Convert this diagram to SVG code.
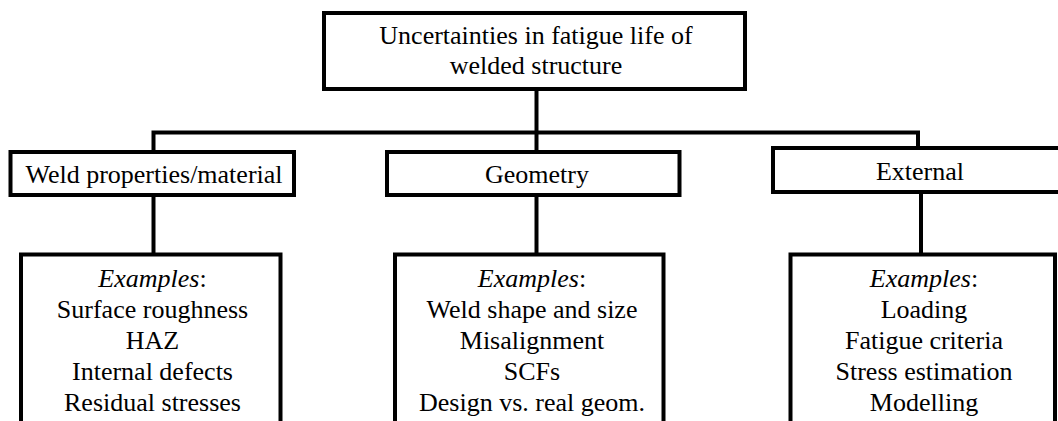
<svg xmlns="http://www.w3.org/2000/svg" width="1058" height="421" viewBox="0 0 1058 421">
<style>
.box{fill:#fff;stroke:#000;stroke-width:4}
.ln{fill:none;stroke:#000;stroke-width:4}
.t{font-size:26px;fill:#000;text-anchor:middle}
</style>
<rect width="1058" height="421" fill="#fff"/>
<g id="connectors">
<path class="ln" d="M536.5 89V152"/>
<path class="ln" d="M153.5 152V132.5H918V148"/>
<path class="ln" d="M153.5 195V254"/>
<path class="ln" d="M536.5 195V254"/>
<path class="ln" d="M921 192V254"/>
</g>
<g font-family="'Liberation Serif', 'Times New Roman', 'DejaVu Serif', serif">
<g id="root">
<rect class="box" x="324" y="13" width="421" height="76"/>
<text class="t" x="536" y="44">Uncertainties in fatigue life of</text>
<text class="t" x="536" y="74">welded structure</text>
</g>
<g id="weld">
<rect class="box" x="10.5" y="152" width="283.5" height="43"/>
<text class="t" x="154" y="183">Weld properties/material</text>
</g>
<g id="geometry">
<rect class="box" x="387" y="152" width="292.5" height="43"/>
<text class="t" x="537" y="183">Geometry</text>
</g>
<g id="external">
<rect class="box" x="773" y="148" width="300" height="44"/>
<text class="t" x="920" y="180">External</text>
</g>
<g id="weld-examples">
<rect class="box" x="21" y="254.5" width="259.5" height="180"/>
<text class="t" x="152.5" y="287"><tspan font-style="italic">Examples</tspan>:</text>
<text class="t" x="152.5" y="318">Surface roughness</text>
<text class="t" x="152.5" y="349">HAZ</text>
<text class="t" x="152.5" y="380">Internal defects</text>
<text class="t" x="152.5" y="411">Residual stresses</text>
</g>
<g id="geometry-examples">
<rect class="box" x="395" y="254.5" width="268.5" height="180"/>
<text class="t" x="532" y="287"><tspan font-style="italic">Examples</tspan>:</text>
<text class="t" x="532" y="318">Weld shape and size</text>
<text class="t" x="532" y="349">Misalignment</text>
<text class="t" x="532" y="380">SCFs</text>
<text class="t" x="532" y="411">Design vs. real geom.</text>
</g>
<g id="external-examples">
<rect class="box" x="790.5" y="254.5" width="264.5" height="180"/>
<text class="t" x="924" y="287"><tspan font-style="italic">Examples</tspan>:</text>
<text class="t" x="924" y="318">Loading</text>
<text class="t" x="924" y="349">Fatigue criteria</text>
<text class="t" x="924" y="380">Stress estimation</text>
<text class="t" x="924" y="411">Modelling</text>
</g>
</g>
</svg>
